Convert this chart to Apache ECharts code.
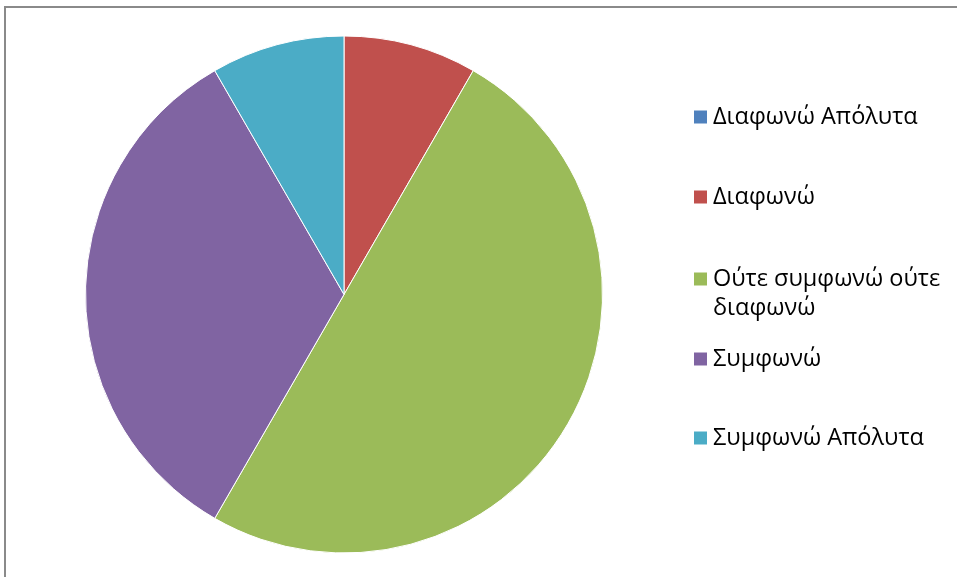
<!DOCTYPE html>
<html>
<head>
<meta charset="utf-8">
<script src="https://cdn.jsdelivr.net/npm/echarts@6/dist/echarts.min.js"></script>
<style>
html,body{margin:0;padding:0;background:#fff;}
#frame{position:absolute;left:4px;top:6px;width:960px;height:580px;border-top:2px solid #8a8a8a;border-left:2px solid #8a8a8a;box-sizing:border-box;}
#chart{position:absolute;left:0;top:0;width:957px;height:577px;}
</style>
</head>
<body>
<div id="frame"></div>
<div id="chart"></div>
<script>
const categories = ['Διαφωνώ Απόλυτα', 'Διαφωνώ', 'Ούτε συμφωνώ ούτε διαφωνώ', 'Συμφωνώ', 'Συμφωνώ Απόλυτα'];
const values = [0, 1, 6, 4, 1];
const colors = ['#4F81BD', '#C0504D', '#9BBB59', '#8064A2', '#4BACC6'];
const legendLabels = ['Διαφωνώ Απόλυτα', 'Διαφωνώ', 'Ούτε συμφωνώ ούτε', 'Συμφωνώ', 'Συμφωνώ Απόλυτα'];
const legendCenters = [117, 197, 279, 359, 438];
const wrapLine = 'διαφωνώ';

const font = 'Open Sans';
const fontSize = 23.5;
const chart = echarts.init(document.getElementById('chart'), null, {renderer: 'canvas'});
const legends = categories.map((c, i) => ({
  orient: 'vertical',
  left: 694,
  top: legendCenters[i] - 14,
  padding: 0,
  icon: 'rect',
  itemWidth: 13,
  itemHeight: 13,
  itemGap: 0,
  itemStyle: {borderWidth: 0},
  selectedMode: false,
  data: [c],
  formatter: () => legendLabels[i],
  textStyle: {fontFamily: font, fontSize: fontSize, color: '#000', lineHeight: 28, padding: [0, 0, 0, 1]}
}));
chart.setOption({
  animation: false,
  color: colors,
  legend: legends,
  graphic: [{
    type: 'text',
    left: 713,
    top: 308 - 14,
    style: {text: wrapLine, fontFamily: font, fontSize: fontSize, fill: '#000', lineHeight: 28}
  }],
  series: [{
    type: 'pie',
    center: [344, 294.5],
    radius: 258.5,
    startAngle: 90,
    clockwise: true,
    label: {show: false},
    labelLine: {show: false},
    emphasis: {disabled: true},
    itemStyle: {borderColor: '#fff', borderWidth: 1},
    data: categories.map((c, i) => ({name: c, value: values[i]}))
  }]
});
</script>
</body>
</html>
